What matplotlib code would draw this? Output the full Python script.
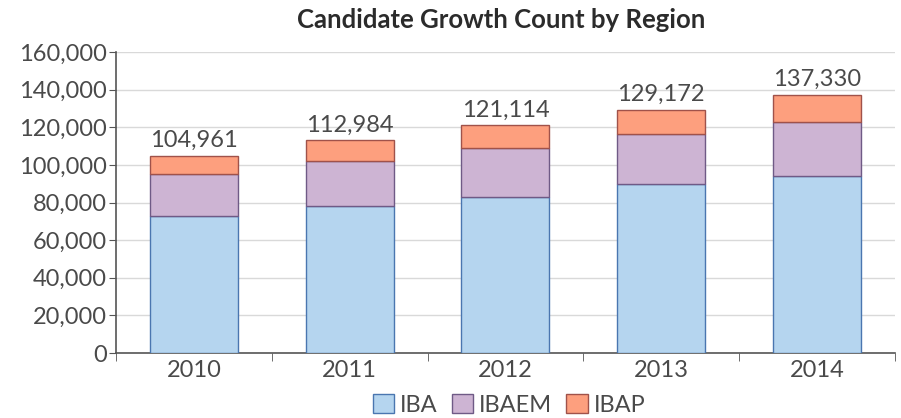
import matplotlib.pyplot as plt
import numpy as np
from matplotlib.ticker import FuncFormatter

years = ['2010', '2011', '2012', '2013', '2014']
iba = [72800, 78100, 82900, 89800, 94200]
ibaem = [22300, 23900, 26100, 26600, 28600]
totals = [104961, 112984, 121114, 129172, 137330]
ibap = [t - a - b for t, a, b in zip(totals, iba, ibaem)]

plt.rcParams['font.family'] = ['Lato', 'DejaVu Sans']
txt = '#4a4a4a'

fig = plt.figure(figsize=(9.01, 4.18), dpi=100)
ax = fig.add_axes([0.129, 0.1555, 0.864, 0.72])

x = np.arange(len(years))
w = 0.565
ax.bar(x, iba, w, color='#b5d5ef', edgecolor='#4a76b0', linewidth=1, label='IBA', zorder=3)
ax.bar(x, ibaem, w, bottom=iba, color='#cdb4d3', edgecolor='#6f5a86', linewidth=1, label='IBAEM', zorder=3)
bottom2 = [a + b for a, b in zip(iba, ibaem)]
ax.bar(x, ibap, w, bottom=bottom2, color='#fd9f7e', edgecolor='#a0524a', linewidth=1, label='IBAP', zorder=3)

for xi, t in zip(x, totals):
    ax.text(xi, t + 2500, f'{t:,}', ha='center', va='bottom', fontsize=17, color=txt)

ax.set_xlim(-0.5, 4.5)
ax.set_ylim(0, 160000)
ax.set_yticks(np.arange(0, 160001, 20000))
ax.yaxis.set_major_formatter(FuncFormatter(lambda v, p: f'{int(v):,}'))
ax.set_xticks(x)
ax.set_xticklabels(years)
ax.set_xticks(np.arange(-0.5, 4.6, 1), minor=True)
ax.tick_params(axis='x', which='major', length=0, labelsize=17, labelcolor=txt, pad=5)
ax.tick_params(axis='x', which='minor', length=6, color='#555555', direction='out')
ax.tick_params(axis='y', length=5, color='#555555', labelsize=17, labelcolor=txt, pad=2)

ax.grid(axis='y', color='#d9d9d9', linewidth=1, zorder=0)
for s in ['top', 'right']:
    ax.spines[s].set_visible(False)
for s in ['left', 'bottom']:
    ax.spines[s].set_color('#555555')
    ax.spines[s].set_linewidth(1.2)

fig.text(0.556, 0.952, 'Candidate Growth Count by Region', ha='center', va='center',
         fontsize=18.5, fontweight='bold', color='#2b2b2b')

fig.legend(loc='lower center', bbox_to_anchor=(0.565, -0.045), ncol=3, frameon=False,
           fontsize=17, handlelength=0.9, handleheight=0.9,
           handletextpad=0.25, columnspacing=0.6, labelcolor=txt)

fig.savefig('out.png', dpi=100)
